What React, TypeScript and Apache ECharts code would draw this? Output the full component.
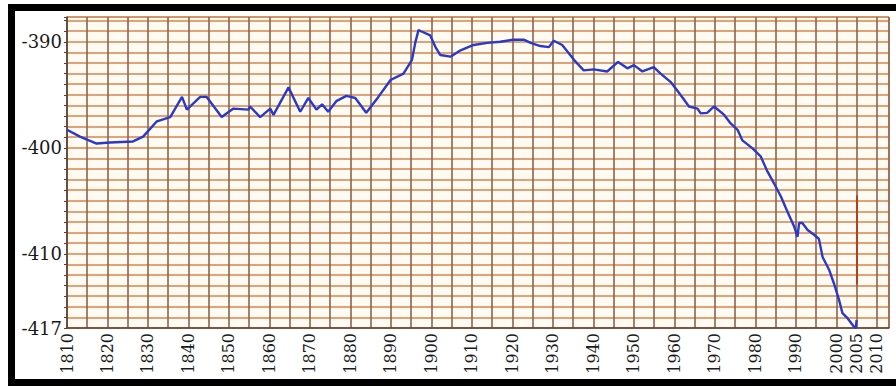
import React, { useEffect, useRef } from "react";
import * as echarts from "echarts";

// Year of each reading
const years: number[] = [
  1810.0, 1813.2, 1817.3, 1820.6, 1826.3, 1828.8, 1832.2, 1835.5, 1838.4, 1839.6,
  1842.9, 1844.5, 1848.2, 1851.1, 1854.8, 1855.2, 1857.7, 1860.2, 1861.0, 1864.7,
  1867.6, 1869.6, 1871.6, 1873.0, 1874.5, 1876.5, 1879.0, 1881.2, 1883.9, 1886.9,
  1889.9, 1893.1, 1895.2, 1896.0, 1896.8, 1897.7, 1899.7, 1901.0, 1902.2, 1904.7,
  1907.2, 1910.4, 1913.8, 1917.0, 1920.3, 1922.8, 1924.5, 1926.9, 1929.0, 1930.2,
  1932.3, 1935.2, 1937.6, 1940.1, 1943.4, 1946.1, 1948.4, 1950.0, 1952.1, 1954.9,
  1956.6, 1959.1, 1961.5, 1963.6, 1965.7, 1966.5, 1968.1, 1969.8, 1972.3, 1973.9,
  1975.6, 1976.8, 1979.3, 1981.3, 1983.0, 1984.6, 1986.3, 1987.9, 1989.6, 1990.4,
  1990.8, 1991.6, 1992.9, 1994.5, 1995.7, 1996.6, 1998.2, 1999.4, 2000.7, 2001.5,
  2002.8, 2004.4, 2004.8, 2005.0,
];

// Level (m) at each reading
const levels: number[] = [
  -398.3, -398.95, -399.6, -399.5, -399.4, -398.95, -397.5, -397.1, -395.2, -396.4,
  -395.2, -395.2, -397.1, -396.3, -396.4, -396.1, -397.1, -396.3, -396.9, -394.3,
  -396.6, -395.3, -396.4, -395.9, -396.6, -395.6, -395.1, -395.3, -396.7, -395.2,
  -393.6, -393.0, -391.7, -390.1, -388.9, -389.05, -389.4, -390.5, -391.25, -391.4,
  -390.8, -390.3, -390.1, -390.0, -389.8, -389.8, -390.1, -390.4, -390.5, -389.9,
  -390.3, -391.7, -392.7, -392.6, -392.8, -391.9, -392.5, -392.2, -392.8, -392.4,
  -393.0, -393.8, -395.0, -396.1, -396.3, -396.75, -396.7, -396.1, -396.9, -397.7,
  -398.3, -399.3, -400.05, -400.8, -402.25, -403.35, -404.6, -406.0, -407.45, -408.4,
  -407.1, -407.1, -407.75, -408.2, -408.6, -410.3, -411.5, -412.8, -414.4, -415.6,
  -416.1, -416.9, -417.0, -416.25,
];

const xLabelValues: number[] = [
  1810, 1820, 1830, 1840, 1850, 1860, 1870, 1880, 1890, 1900, 1910, 1920, 1930,
  1940, 1950, 1960, 1970, 1980, 1990, 2000, 2005, 2010,
];
const yLabelValues: number[] = [-417, -410, -400, -390];

const markerYear = 2005;
const markerFrom = -404.5;
const markerTo = -412.9;

export default function App() {
  const ref = useRef<HTMLDivElement>(null);

  useEffect(() => {
    document.body.style.margin = "0";
    if (!ref.current) return;
    const chart = echarts.init(ref.current, null, { renderer: "svg" });
    const data = years.map((y, i) => [y, levels[i]]);
    const font = "'DejaVu Serif', 'Liberation Serif', serif";

    chart.setOption({
      animation: false,
      backgroundColor: "#ffffff",
      grid: {
        left: 67,
        right: 7,
        top: 17,
        bottom: 58,
        show: true,
        backgroundColor: "#fffaf2",
        borderColor: "#b87a58",
        borderWidth: 1,
      },
      xAxis: {
        type: "value",
        min: 1810,
        max: 2013,
        interval: 5,
        axisLine: { show: true, lineStyle: { color: "#5e4032", width: 1.5 } },
        axisTick: { show: false },
        axisLabel: {
          customValues: xLabelValues,
          rotate: 90,
          margin: 5,
          fontFamily: font,
          fontSize: 16,
          color: "#1a1a1a",
          formatter: (v: number) => String(v),
        },
        splitLine: {
          show: true,
          lineStyle: { color: "#8a634e", width: 1.6 },
        },
      },
      yAxis: {
        type: "value",
        min: -417,
        max: -387.66,
        interval: 1,
        axisLine: { show: true, lineStyle: { color: "#5e4032", width: 1.5 } },
        axisTick: { show: true, length: 3, lineStyle: { color: "#5e4032" } },
        axisLabel: {
          customValues: yLabelValues,
          margin: 5,
          fontFamily: font,
          fontSize: 18,
          color: "#1a1a1a",
          formatter: (v: number) => String(v),
        },
        splitLine: {
          show: true,
          lineStyle: { color: "#d3874f", width: 1.5 },
        },
      },
      series: [
        {
          type: "line",
          data,
          showSymbol: false,
          symbol: "none",
          lineStyle: { color: "#2a3ac8", width: 2.4 },
          z: 5,
          markLine: {
            silent: true,
            symbol: "none",
            label: { show: false },
            lineStyle: { color: "#b0401f", width: 2, type: "solid" },
            data: [
              [
                { coord: [markerYear, markerFrom] },
                { coord: [markerYear, markerTo] },
              ],
            ],
          },
        },
      ],
      graphic: [
        { type: "rect", shape: { x: 8, y: 4, width: 888, height: 7 }, style: { fill: "#000" }, z: 100 },
        { type: "rect", shape: { x: 8, y: 4, width: 7, height: 382 }, style: { fill: "#000" }, z: 100 },
        { type: "rect", shape: { x: 8, y: 379, width: 888, height: 7 }, style: { fill: "#000" }, z: 100 },
      ],
    });

    return () => chart.dispose();
  }, []);

  return <div ref={ref} style={{ width: 896, height: 386 }} />;
}
